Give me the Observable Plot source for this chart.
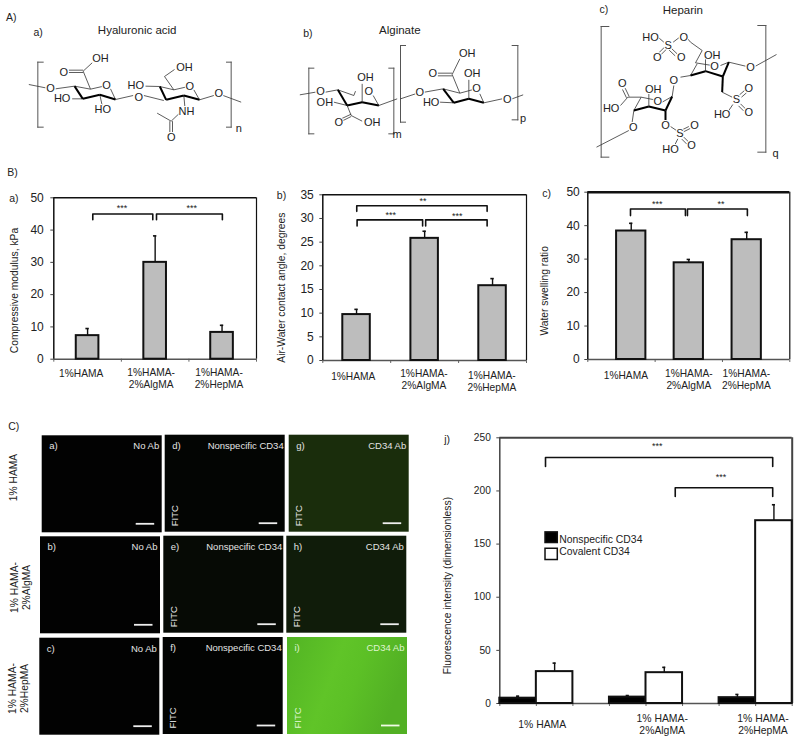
<!DOCTYPE html>
<html><head><meta charset="utf-8">
<script src="https://cdn.jsdelivr.net/npm/d3@7"></script>
<script src="https://cdn.jsdelivr.net/npm/@observablehq/plot@0.6"></script>
<style>
html,body{margin:0;padding:0;background:#fff}
#fig{position:relative;width:800px;height:742px;overflow:hidden;font-family:"Liberation Sans",Arial,sans-serif}
#fig svg{position:absolute;left:0;top:0;background:transparent;max-width:none}
</style></head><body><div id="fig"></div>
<script>
const FONT='"Liberation Sans",Arial,sans-serif', INK="#222";
const hydrogelLabels=["1%HAMA","1%HAMA-\n2%AlgMA","1%HAMA-\n2%HepMA"];
const compressive=[7.3,30,8.3], compressiveTop=[9.5,38.2,10.5];
const contactAngle=[9.7,25.8,15.8], contactAngleTop=[10.8,27.3,17.3];
const swelling=[38.4,28.9,35.8], swellingTop=[40.7,29.9,38];
const fluorLabels=["1% HAMA","1% HAMA-\n2%AlgMA","1% HAMA-\n2%HepMA"];
const nonspecific=[5,6,5.5], nonspecificTop=[6.9,7.5,8.5];
const covalent=[30,29,172], covalentTop=[38,34,187];

const fig=document.getElementById("fig");
function add(p){fig.appendChild(p);}
function bracket(x1,x2,yTop,yBottom){return [{x:x1,y:yBottom},{x:x1,y:yTop},{x:x2,y:yTop},{x:x2,y:yBottom}];}

function chart(o){
  const [L,T,R,B]=o.box, c=o.frame||"#111", marks=[];
  const tickLen=o.ymax*3/(B-T);
  marks.push(Plot.ruleX(o.xticks||[0,1,2,3],{y1:0,y2:-tickLen,stroke:"#666",strokeWidth:1}));
  marks.push(Plot.ruleY([0],{stroke:o.axisColor||"#555",strokeWidth:1.5}));
  marks.push(Plot.ruleY([o.ymax],{stroke:c,strokeWidth:o.topW||1.5}));
  marks.push(Plot.ruleX([0],{stroke:c,strokeWidth:1.5}));
  marks.push(Plot.ruleX([3],{stroke:c,strokeWidth:o.rightW||1.2}));
  marks.push(Plot.axisY({ticks:d3.range(0,o.ymax+1,o.ystep),tickSize:3,tickPadding:o.pad||7,fontSize:o.tickFont||12,stroke:"#444",color:INK,label:null,fontFamily:FONT}));
  for(const s of o.series){
    const d=s.values.map((v,i)=>({v,t:s.tops[i],c:o.centers[i]+s.shift}));
    marks.push(Plot.ruleX(d,{x:"c",y1:"v",y2:"t",stroke:"#111",strokeWidth:1.4}));
    marks.push(Plot.ruleY(d,{y:"t",x1:q=>q.c-o.cap,x2:q=>q.c+o.cap,stroke:"#111",strokeWidth:1.6}));
    marks.push(Plot.rectY(d,{x1:q=>q.c-o.barW/2,x2:q=>q.c+o.barW/2,y1:0,y2:"v",fill:s.fill,stroke:"#111",strokeWidth:2}));
  }
  for(const b of o.brackets) marks.push(Plot.line(bracket(...b),{x:"x",y:"y",stroke:"#111",strokeWidth:1.6,strokeLinejoin:"round"}));
  marks.push(Plot.text(o.stars,{x:"x",y:"y",text:"t",fontSize:9,fill:INK,fontFamily:FONT}));
  o.labels.forEach((t,i)=>marks.push(Plot.text([t],{x:()=>o.labelX[i],y:()=>0,dy:o.labelDy[i],text:d=>d,fontSize:o.labelFont||10.2,fill:"#222",lineHeight:1.15,fontFamily:FONT})));
  marks.push(Plot.text([o.ylabel],{frameAnchor:"left",textAnchor:"middle",dx:o.ylabelDx,dy:o.ylabelDy,rotate:-90,text:d=>d,fontSize:o.ylabelFont||10.3,fill:"#222",fontFamily:FONT}));
  if(o.extra) marks.push(...o.extra);
  add(Plot.plot({width:800,height:742,marginLeft:L,marginRight:800-R,marginTop:T,marginBottom:742-B,
    x:{domain:[0,3],axis:null},y:{domain:[0,o.ymax],axis:null},marks}));
}

chart({box:[53.3,197.3,256,358.7],ymax:50,ystep:10,centers:[.5,1.5,2.49],barW:.335,cap:.025,
  series:[{values:compressive,tops:compressiveTop,fill:"#bdbdbd",shift:0}],
  brackets:[[.577,1.465,45,43.2],[1.52,2.495,45,43.2]],
  stars:[{x:1.01,y:46.9,t:"***"},{x:2.04,y:46.9,t:"***"}],
  labels:hydrogelLabels,labelX:[.405,1.44,2.445],labelDy:[14.3,19,19],
  ylabel:"Compressive modulus, kPa",ylabelDx:-39,ylabelDy:12});

chart({box:[322.3,194.3,526,360],ymax:35,ystep:5,centers:[.497,1.5,2.5],barW:.405,cap:.025,
  series:[{values:contactAngle,tops:contactAngleTop,fill:"#bdbdbd",shift:0}],
  brackets:[[.5,2.42,32.7,31.5],[.505,1.47,29.7,28.4],[1.515,2.42,29.7,28.4]],
  stars:[{x:1.477,y:33.7,t:"**"},{x:1.0,y:30.7,t:"***"},{x:1.98,y:30.5,t:"***"}],
  labels:hydrogelLabels,labelX:[.448,1.49,2.49],labelDy:[15.7,19,20.5],
  ylabel:"Air-Water contact angle, degrees",ylabelDx:-41,ylabelDy:10,pad:6});

chart({box:[587.3,191.7,789.3,359],ymax:50,ystep:10,centers:[.645,1.5,2.36],barW:.435,cap:.025,topW:2.5,
  series:[{values:swelling,tops:swellingTop,fill:"#bdbdbd",shift:0}],
  brackets:[[.634,1.45,45,43],[1.48,2.37,45,43]],
  stars:[{x:1.03,y:46.5,t:"***"},{x:1.98,y:46.5,t:"**"}],
  labels:hydrogelLabels,labelX:[.565,1.5,2.355],labelDy:[16,19.5,20],
  ylabel:"Water swelling ratio",ylabelDx:-43,ylabelDy:15,pad:5});

chart({box:[499.3,437.3,791.7,703],ymax:250,ystep:50,centers:[.375,1.5,2.625],barW:.375,cap:.016,
  frame:"#444",topW:2,rightW:2,tickFont:10.2,pad:6,xticks:d3.range(0,3.01,.375),
  series:[{values:nonspecific,tops:nonspecificTop,fill:"#000",shift:-.1875},{values:covalent,tops:covalentTop,fill:"#fff",shift:.1875}],
  brackets:[[.469,2.8,231.5,223],[1.8,2.8,203,194.8]],
  stars:[{x:1.615,y:241.8,t:"***"},{x:2.27,y:213,t:"***"}],
  labels:fluorLabels,labelX:[.435,1.666,2.7],labelDy:[20.3,20.5,20.5],labelFont:10.4,
  ylabel:"Fluorescence intensity (dimensionless)",ylabelDx:-52.5,ylabelDy:15,
  extra:[
    Plot.rect([{y1:151,y2:161,f:"#000"},{y1:135,y2:145.6,f:"#fff"}],{x1:.469,x2:.595,y1:"y1",y2:"y2",fill:"f",stroke:"#111",strokeWidth:1.5}),
    Plot.text([{y:154.5,t:"Nonspecific CD34"},{y:142.5,t:"Covalent CD34"}],{x:.61,y:"y",text:"t",textAnchor:"start",fontSize:10.4,fill:"#222",fontFamily:FONT})
  ]});

/* micrographs */
const cellRows=["1% HAMA","1% HAMA-\n2%AlgMA","1% HAMA-\n2%HepMA"];
const cellTags=[["a)","d)","g)"],["b)","e)","h)"],["c)","f)","i)"]];
const cellNames=["No Ab","Nonspecific CD34","CD34 Ab"];
const cellFill=[["#020202","#030503","#1a2d0c"],["#020202","#060a05","#101c0a"],["#020202","#020302","url(#bright)"]];
const cellLeft=[[41.7,164.7,288.7],[40,163.3,286.3],[39.3,162.7,287]];
const cellTop=[[435.3,434.7,434.7],[536.3,535.7,535.7],[637.7,637,637]];
const cells=[];
cellTop.forEach((row,r)=>row.forEach((top,c)=>cells.push({r,c,top,left:cellLeft[r][c],fill:cellFill[r][c],tag:cellTags[r][c],name:cellNames[c],fitc:c>0,pale:r==2&&c==2})));
const defs=()=>{const s=d3.create("svg:defs");
  const g=s.append("linearGradient").attr("id","bright").attr("x1",0).attr("y1",0).attr("x2",1).attr("y2",.3);
  [[0,"#52b424"],[.45,"#60c428"],[.65,"#5cc026"],[1,"#52b024"]].forEach(([o,c])=>g.append("stop").attr("offset",o).attr("stop-color",c));
  return s.node();};
const TXT=d=>d.pale?"#dff5cf":"#e4e4e4";
add(Plot.plot({width:800,height:742,margin:0,x:{domain:[0,800],axis:null},y:{domain:[0,742],range:[0,742],axis:null},marks:[
  defs,
  Plot.rect(cells,{x1:"left",x2:d=>d.left+120,y1:"top",y2:d=>d.top+97,fill:"fill"}),
  Plot.ruleY(cells,{y:d=>d.top+88,x1:d=>d.left+94,x2:d=>d.left+112.5,stroke:d=>d.pale?"#eefbe4":"#eee",strokeWidth:1.8}),
  Plot.text(cells,{x:d=>d.left+7,y:d=>d.top+10.5,text:"tag",textAnchor:"start",fontSize:9.5,fill:TXT,fontFamily:FONT}),
  Plot.text(cells,{x:d=>d.left+(d.c==1?118.5:117),y:d=>d.top+10.5,text:"name",textAnchor:"end",fontSize:9.5,fill:TXT,fontFamily:FONT}),
  Plot.text(cells.filter(d=>d.fitc),{x:d=>d.left+10,y:d=>d.top+80.5,text:()=>"FITC",rotate:-90,fontSize:9.5,fill:TXT,fontFamily:FONT}),
  Plot.text(cellRows,{x:[13,19.5,17.5],y:[477,587,688],text:d=>d,rotate:-90,fontSize:10.3,fill:"#222",lineHeight:1.15,fontFamily:FONT})
]}));

/* structures: drawing units, 3 per screen pixel */
const structLine=[
 [128,185,112,185],[112,185,112,380],[112,380,128,380],[678,185,692,185],[692,185,692,380],[692,380,678,380],
 [940,203,925,203],[925,203,925,400],[925,400,940,400],[1165,203,1180,203],[1180,203,1180,400],[1180,400,1165,400],
 [1215,135,1200,135],[1200,135,1200,365],[1200,365,1215,365],[1535,135,1552,135],[1552,135,1552,358],[1552,358,1535,358],
 [1825,78,1802,78],[1802,78,1802,470],[1802,470,1825,470],[2272,75,2296,75],[2296,75,2296,455],[2296,455,2272,455]
];
const structBond=[
 [85,252,135,262],[165,265,222,257],[222,257,270,266],[270,266,305,258],[330,265,345,297],[247,295,215,295],[298,283,305,315],
 [270,266,248,212],[205,209,248,209],[205,216,248,216],[248,212,275,187],[345,297,398,285],[430,285,490,300],
 [478,258,520,268],[520,268,555,260],[580,268,597,298],[478,258,435,257],[520,268,492,228],[492,228,522,207],[550,285,553,318],
 [535,340,512,362],[512,362,470,338],[508,362,508,395],[516,362,516,395],[597,298,640,285],[668,285,722,305],
 [898,283,945,275],[975,275,1012,268],[1012,268,1060,285],[1060,285,1065,272],[1085,250,1085,305],[1118,285,1135,315],[1040,315,1000,305],
 [1040,315,1052,345],[1052,341,1020,356],[1052,348,1024,362],[1052,345,1085,362],[1135,315,1190,295],
 [1200,295,1245,280],[1272,275,1328,265],[1328,265,1378,278],[1378,278,1415,268],[1438,280,1450,307],[1405,295,1405,238],[1360,307,1318,305],
 [1378,278,1355,222],[1355,218,1312,218],[1355,226,1312,226],[1355,222,1378,175],[1450,307,1505,295],[1535,295,1568,283],
 [2040,230,2070,225],[2070,225,2090,190],[2085,187,2135,195],[2160,195,2185,185],[2115,212,2115,170],[2105,150,2085,187],[2105,150,2070,125],[2070,125,2060,113],
 [2035,112,2018,125],[1990,125,1975,112],[1992,140,1975,157],[1998,146,1981,163],[2012,143,2030,160],[2006,149,2024,166],[2185,185,2235,197],[2265,197,2328,162],
 [2165,275,2195,290],[2217,283,2232,270],[2223,290,2238,277],[2220,310,2235,325],[2214,316,2229,331],[2197,312,2185,330],
 [2020,255,2015,288],[1922,290,1900,330],[1922,290,1962,298],[1985,305,2015,288],[1945,318,1945,280],[1922,290,1882,290],[1878,292,1866,267],[1886,288,1874,263],[1882,290,1860,315],
 [1900,330,1895,365],[1885,390,1788,440],[2010,378,2028,390],[2045,388,2065,378],[2049,394,2069,384],[2050,410,2065,425],[2044,416,2059,431],[2032,415,2022,435]
];
const structWedge=[
 [222,257,247,295],[247,295,298,283],[298,283,345,297],[478,258,497,298],[497,298,550,285],[550,285,597,298],
 [1012,268,1040,315],[1040,315,1085,305],[1085,305,1135,315],
 [1328,265,1360,307],[1360,307,1405,295],[1405,295,1450,307],
 [2070,225,2115,212],[2115,212,2167,228],[2167,228,2185,185],[2167,228,2165,275],
 [2015,288,1995,330],[1995,330,1945,318],[1945,318,1900,330],[1995,330,1995,362]
];
const structAtoms=[
 ["O",150,265],["HO",185,295],["HO",307,328],["O",190,215],["OH",300,173],["O",318,256],["O",415,292],["HO",406,254],["OH",552,202],["O",568,258],["NH",558,333],["O",512,412],["O",655,280],
 ["O",960,272],["OH",1095,232],["O",1105,272],["OH",973,305],["O",1015,367],["OH",1115,367],
 ["O",1258,275],["OH",1415,220],["O",1428,265],["HO",1292,305],["O",1297,220],["OH",1400,158],["O",1520,297],
 ["HO",1950,110],["O",2050,110],["S",2003,135],["O",1970,170],["O",2042,170],["OH",2135,165],["O",2142,198],["O",2250,200],["O",2020,240],
 ["S",2208,298],["O",2245,265],["O",2245,335],["HO",2165,343],["O",1865,250],["HO",1832,325],["OH",1958,268],["O",1972,302],["O",1898,382],["O",1995,375],["S",2038,400],["O",2082,375],["O",2073,435],["HO",2010,447]
];
const structIndex=[["n",715,383],["m",1190,402],["p",1568,355],["q",2325,460]];
const structTitles=[["Hyaluronic acid",410,90],["Alginate",1198,90],["Heparin",2047,28]];
const freeText=[["A)",32,52],["a)",113,97],["b)",922,100],["c)",1810,28],
 ["B)",36,516],["a)",40,595],["b)",843,585],["c)",1638,580],["C)",40,1278],["j)",1340,1317]];
const seg=a=>a.map(([x1,y1,x2,y2])=>({x1,y1,x2,y2}));
const pts=a=>a.map(([t,x,y])=>({t,x,y}));
add(Plot.plot({width:800,height:742,margin:0,x:{domain:[0,2400],range:[0,800],axis:null},y:{domain:[0,2226],range:[0,742],axis:null},marks:[
  Plot.link(seg(structLine),{x1:"x1",y1:"y1",x2:"x2",y2:"y2",stroke:"#555",strokeWidth:1,strokeLinecap:"square"}),
  Plot.link(seg(structBond),{x1:"x1",y1:"y1",x2:"x2",y2:"y2",stroke:"#333",strokeWidth:.8}),
  Plot.link(seg(structWedge),{x1:"x1",y1:"y1",x2:"x2",y2:"y2",stroke:"#000",strokeWidth:2}),
  Plot.text(pts(structAtoms),{x:"x",y:"y",text:"t",fontSize:11,fill:"#222",fontFamily:FONT,stroke:"#fff",strokeWidth:2,paintOrder:"stroke"}),
  Plot.text(pts(structIndex),{x:"x",y:"y",text:"t",fontSize:11,fill:"#222",fontFamily:FONT}),
  Plot.text(pts(structTitles),{x:"x",y:"y",text:"t",fontSize:11.5,fill:"#222",fontFamily:FONT}),
  Plot.text(pts(freeText),{x:"x",y:"y",text:"t",fontSize:10.5,fill:"#222",fontFamily:FONT})
]}));
</script></body></html>
